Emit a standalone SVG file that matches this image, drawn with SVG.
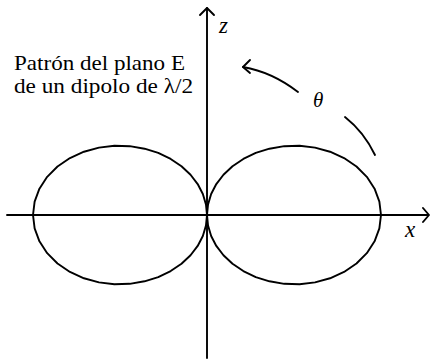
<svg xmlns="http://www.w3.org/2000/svg" width="430" height="361" viewBox="0 0 430 361">
<style>
.ln{fill:none;stroke:#000;stroke-width:1.9;stroke-linecap:round;stroke-linejoin:round}
.lobe{fill:none;stroke:#000;stroke-width:1.9;stroke-linejoin:round}
.t{font-family:"Liberation Serif","DejaVu Serif",serif;fill:#000}
.it{font-family:"Liberation Serif","DejaVu Serif",serif;font-style:italic;fill:#000}
</style>
<defs>
<path id="lobeR" d="M207,215 L208.04,204.41 L211.15,194.03 L216.31,184.06 L223.46,174.72 L232.52,166.24 L243.33,158.95 L255.77,152.96 L269.47,148.69 L284.26,146.18 L299.6,145.78 L315.03,147.62 L330.04,151.73 L344.04,158.07 L356.49,166.53 L366.82,176.85 L374.57,188.68 L379.37,201.57 L381,215 L379.37,228.43 L374.57,241.32 L366.82,253.15 L356.49,263.47 L344.04,271.93 L330.04,278.27 L315.03,282.38 L299.6,284.22 L284.26,283.82 L269.47,281.31 L255.77,277.04 L243.33,271.05 L232.52,263.76 L223.46,255.28 L216.31,245.94 L211.15,235.97 L208.04,225.59 Z"/>
</defs>
<g id="pattern">
<use href="#lobeR" class="lobe"/>
<use href="#lobeR" class="lobe" transform="translate(414,0) scale(-1,1)"/>
</g>
<g id="connectors">
<g id="z-axis">
<line class="ln" x1="207" y1="8" x2="207" y2="358"/>
<polyline class="ln" points="200,15 207,8 214,15"/>
</g>
<g id="x-axis">
<line class="ln" x1="7" y1="215" x2="428" y2="215"/>
<polyline class="ln" points="423,208 429,215 423,222"/>
</g>
<g id="theta-arc">
<path class="ln" d="M298,92 Q272,72 243,67"/>
<polyline class="ln" points="250,60 243,67 250,73"/>
<path class="ln" d="M345,117 Q364,132 375,155"/>
</g>
</g>
<g id="labels">
<text class="it" x="219" y="33" font-size="23">z</text>
<text class="it" x="405" y="237" font-size="23">x</text>
<text class="it" x="313" y="107" font-size="21">θ</text>
<text class="t" x="14" y="70" font-size="21" textLength="171" lengthAdjust="spacingAndGlyphs">Patrón del plano E</text>
<text class="t" x="14" y="93" font-size="21" textLength="179" lengthAdjust="spacingAndGlyphs">de un dipolo de λ/2</text>
</g>
</svg>
